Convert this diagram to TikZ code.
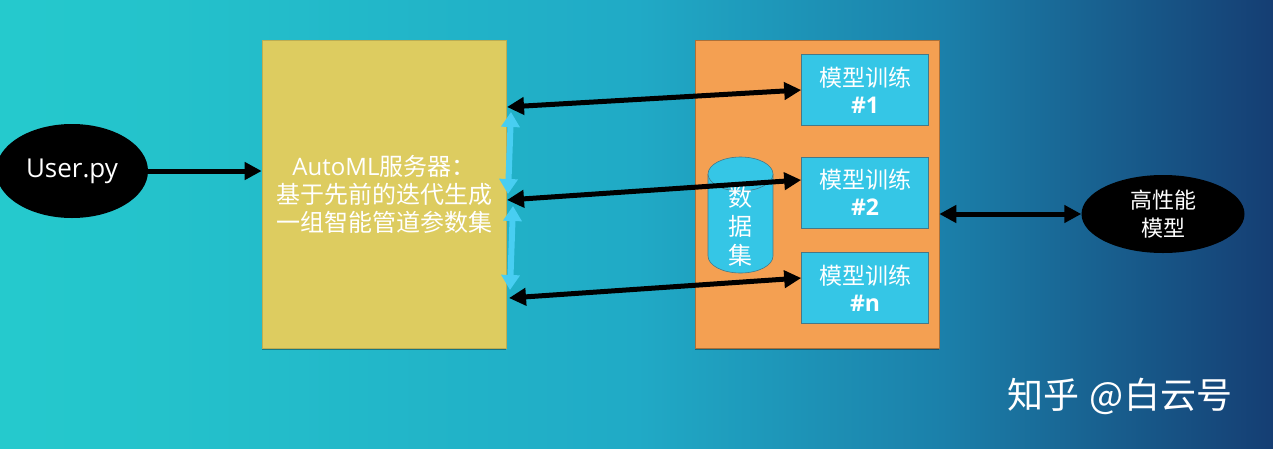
\documentclass[tikz,border=0pt]{standalone}
\usepackage{fontspec}
\setmainfont{Noto Sans CJK SC}
\newfontfamily\latin{Open Sans}
\usetikzlibrary{arrows.meta,positioning,shapes.geometric,shadows}
\definecolor{bgA}{RGB}{37,202,205}
\definecolor{bgB}{RGB}{32,170,198}
\definecolor{bgC}{RGB}{27,128,170}
\definecolor{bgD}{RGB}{21,62,115}
\definecolor{amlyellow}{RGB}{221,204,96}
\definecolor{amlorange}{RGB}{244,160,82}
\definecolor{amlcyan}{RGB}{53,198,230}
\definecolor{amlarrow}{RGB}{72,206,242}
\definecolor{amledge}{RGB}{70,120,135}
\pgfdeclarehorizontalshading{bgshade}{100bp}{color(0bp)=(bgA); color(25bp)=(bgA); color(50bp)=(bgB); color(62bp)=(bgC); color(75bp)=(bgD); color(100bp)=(bgD)}

\begin{document}
\begin{tikzpicture}[x=1pt, y=-1pt,
  blackoval/.style={ellipse, fill=black, inner sep=0pt, text=white, align=center},
  trainbox/.style={draw=amledge, line width=0.6pt, fill=amlcyan, minimum width=127pt,
    minimum height=71pt, inner sep=0pt, text=white, align=center,
    font=\fontsize{23}{27}\selectfont},
  panel/.style={line width=0.6pt, minimum width=244pt, minimum height=308pt, inner sep=0pt,
    drop shadow={shadow xshift=0pt, shadow yshift=-2pt, fill=black, opacity=0.35}},
  blkarrow/.style={draw=black, line width=5pt, -{Triangle[length=17pt,width=17pt]}},
  blkdbl/.style={draw=black, line width=5pt,
    {Triangle[length=17pt,width=17pt]}-{Triangle[length=17pt,width=17pt]}},
  cyandbl/.style={draw=amlarrow, line width=6pt,
    {Triangle[length=15pt,width=18pt]}-{Triangle[length=15pt,width=18pt]}}]

\useasboundingbox (0,0) rectangle (1273,448);
\shade[shading=bgshade] (0,0) rectangle (1273,448);

% --- AutoML server ---
\node[panel, draw=amlyellow!85!black, fill=amlyellow, text=white, align=center,
      font=\fontsize{24}{28}\selectfont] (server) at (384,194)
      {{\latin AutoML}服务器：\\基于先前的迭代生成\\一组智能管道参数集};

% --- training pool ---
\node[panel, draw=amlorange!70!black, fill=amlorange] (pool) at (817,194) {};

% dataset cylinder
\fill[amlcyan] (708,174) rectangle (773,256);
\fill[amlcyan] (740.5,256) ellipse [x radius=32.5, y radius=17];
\draw[amledge, line width=0.6pt] (708,174) -- (708,256)
      arc[start angle=180, end angle=0, x radius=32.5, y radius=17] -- (773,174);
\draw[amledge, line width=0.6pt, fill=amlcyan] (740.5,174) ellipse [x radius=32.5, y radius=17];
\node[text=white, align=center, font=\fontsize{24}{29}\selectfont] (data) at (740,226) {数\\据\\集};

% training jobs
\node[trainbox] (train1) at (865,90) {模型训练\\{\latin\bfseries\#1}};
\node[trainbox] (train2) at (865,192.5) {模型训练\\{\latin\bfseries\#2}};
\node[trainbox] (trainn) at (865,288) {模型训练\\{\latin\bfseries\#n}};

% --- ovals ---
\node[blackoval, minimum width=152pt, minimum height=94pt,
      font=\latin\fontsize{26}{30}\selectfont] (user) at (72,171) {User.py};
\node[blackoval, minimum width=163pt, minimum height=78pt,
      font=\fontsize{22}{28}\selectfont] (best) at (1163,214) {高性能\\模型};

% --- arrows ---
\coordinate (p1) at (507,107);
\coordinate (p2) at (507,200);
\coordinate (p3) at (509,298);
\coordinate (c1) at (511,112);
\coordinate (c2) at (508,194);
\coordinate (c3) at (513,206);
\coordinate (c4) at (510,290);

\draw[blkarrow] (user.east) -- (user.east -| server.west);
\draw[blkdbl] (p1) -- (train1.west);
\draw[blkdbl] (p2) -- ([yshift=12.5pt]train2.west);
\draw[blkdbl] (p3) -- ([yshift=10pt]trainn.west);
\draw[blkdbl] (best.west -| pool.east) -- (best.west);
\draw[cyandbl] (c1) -- (c2);
\draw[cyandbl] (c3) -- (c4);

% watermark
\node[text=white, font=\fontsize{36}{40}\selectfont] (zhihu) at (1120,396) {知乎\hspace{10pt}@白云号};

\end{tikzpicture}
\end{document}
